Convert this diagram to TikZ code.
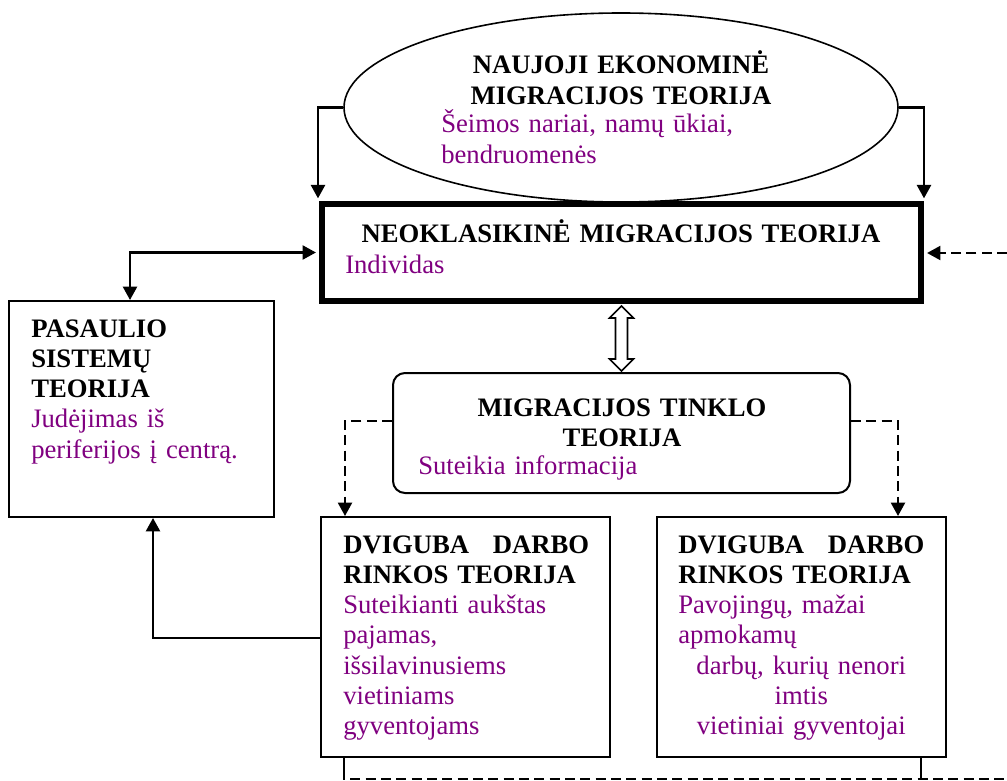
\documentclass[tikz,border=0pt]{standalone}
\usepackage{fontspec}
\setmainfont{Liberation Serif}
\usetikzlibrary{calc,arrows.meta,shapes.geometric}
\definecolor{txtpurple}{RGB}{128,0,128}
\begin{document}
\begin{tikzpicture}[x=0.75pt,y=-0.75pt,
  every node/.style={font=\fontsize{20}{22.7}\selectfont},
  boxnode/.style={draw,line width=1.5pt,inner sep=0pt,fill=white},
  txt/.style={inner sep=0pt,align=left},
  ctxt/.style={inner sep=0pt,align=center},
  tip/.style={Triangle[length=10pt,width=10.5pt]},
  solidarrow/.style={line width=1.7pt,-{Triangle[length=10pt,width=10.5pt]}},
  dasharrow/.style={line width=1.6pt,dash pattern=on 7.5pt off 4pt,-{Triangle[length=10pt,width=10.5pt]}},
  dashline/.style={line width=1.5pt,dash pattern=on 7.5pt off 4pt},
  pur/.style={text=txtpurple}]
\useasboundingbox (0,0) rectangle (1007,781);

% shapes
\node[draw,ellipse,line width=1.2pt,minimum width=415.5pt,minimum height=141.75pt,inner sep=0pt] (ell) at (621,107.5) {};
\node[draw,line width=4.5pt,minimum width=449.25pt,minimum height=72.75pt,inner sep=0pt] (neo) at (621.5,252.5) {};
\node[boxnode,minimum width=198.75pt,minimum height=162pt] (pas) at (141.5,409) {};
\node[boxnode,rounded corners=9pt,minimum width=342.75pt,minimum height=90pt] (tin) at (621.5,433) {};
\node[boxnode,minimum width=216.75pt,minimum height=180pt] (bthree) at (465.5,637) {};
\node[boxnode,minimum width=216.75pt,minimum height=180pt] (bfour) at (801.5,637) {};

% texts
\node[ctxt,anchor=base,text width=260pt] (ellT) at (621,74) {\textbf{NAUJOJI EKONOMINĖ\\MIGRACIJOS TEORIJA}};
\node[txt,pur,anchor=base west,text width=240pt] (ellP) at (441,133) {Šeimos nariai, namų ūkiai,\\bendruomenės};
\node[ctxt,anchor=base,text width=430pt] (neoT) at (621,243) {\textbf{NEOKLASIKINĖ MIGRACIJOS TEORIJA}};
\node[txt,pur,anchor=base west,text width=200pt] (neoP) at (345,273) {Individas};
\node[txt,anchor=base west,text width=178pt] (pasT) at (31,337) {\textbf{PASAULIO\\SISTEMŲ\\TEORIJA}\\{\color{txtpurple}Judėjimas iš\\periferijos į centrą.}};
\node[ctxt,anchor=base,text width=300pt] (tinT) at (622,416) {\textbf{MIGRACIJOS TINKLO\\TEORIJA}};
\node[txt,pur,anchor=base west,text width=250pt] (tinP) at (418,474) {Suteikia informacija};
\node[txt,anchor=base west,text width=184.5pt] (bthreeT) at (343,553) {\textbf{\makebox[\linewidth][l]{DVIGUBA\hfill DARBO}}\\\textbf{RINKOS TEORIJA}\\{\color{txtpurple}Suteikianti aukštas\\pajamas,\\išsilavinusiems\\vietiniams\\gyventojams}};
\node[txt,anchor=base west,text width=184.5pt] (bfourT) at (678,553) {\textbf{\makebox[\linewidth][l]{DVIGUBA\hfill DARBO}}\\\textbf{RINKOS TEORIJA}\\{\color{txtpurple}Pavojingų, mažai\\apmokamų\\\makebox[\linewidth][c]{darbų, kurių nenori}\\\makebox[\linewidth][c]{imtis}\\\makebox[\linewidth][c]{vietiniai gyventojai}}};

% free ends on the right edge
\coordinate (rr) at (1007,253);
\coordinate (br) at (1007,779);

% connectors
\draw[solidarrow,shorten >=2pt] (ell.west) -| ($(neo.north west)+(-1,0)$);
\draw[solidarrow,shorten >=2pt] (ell.east) -| ($(neo.north east)+(0,0)$);
\draw[line width=1.7pt,{Triangle[length=10pt,width=10.5pt]}-{Triangle[length=10pt,width=10.5pt]},shorten <=2.3pt] (neo.west) -| ($(pas.north)+(-11.5,0)$);
\draw[dasharrow,shorten >=2.3pt] (rr) -- (neo.east |- rr);
\draw[dasharrow] ($(tin.west)+(0,-12)$) -| ($(bthree.north west)+(25,0)$);
\draw[dasharrow] ($(tin.east)+(0,-12)$) -| ($(bfour.north east)+(-49,0)$);
\draw[solidarrow] ($(bthree.west)+(0,1)$) -| ($(pas.south)+(11.5,0)$);
\draw[line width=1.5pt] ($(bthree.south west)+(24,0)$) -- ++(0,12);
\draw[dashline] ($(bthree.south west)+(24,12)$) |- (br);
\draw[line width=1.5pt] ($(bfour.south west)+(265,0)$) -- ++(0,12);
\draw[dashline] ($(bfour.south west)+(265,12)$) -- ($(bfour.south west)+(265,22)$);

% open double arrow between neo and tin
\coordinate (dt) at ($(neo.south)+(0,2)$);
\coordinate (db) at ($(tin.north)+(0,-1)$);
\draw[line width=1.2pt,fill=white,line join=miter]
  (dt) -- ++(12,12) -- ++(-6,0) |- ($(db)+(6,-12)$) -- ++(6,0) -- (db)
  -- ++(-12,-12) -- ++(6,0) |- ($(dt)+(-6,12)$) -- ++(-6,0) -- cycle;
\end{tikzpicture}
\end{document}
